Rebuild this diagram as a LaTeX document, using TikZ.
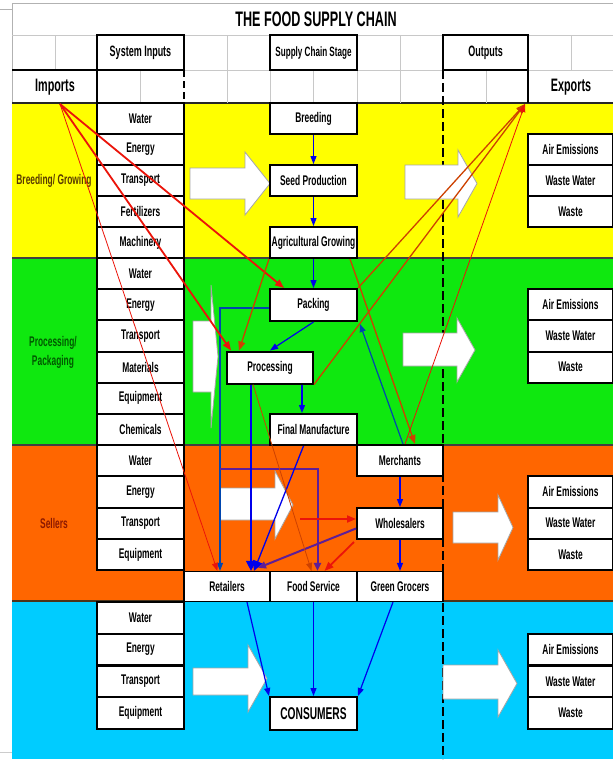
\documentclass[tikz,border=0pt]{standalone}
\usepackage{fontspec}
\setmainfont{Liberation Sans}[FakeStretch=0.6]
\usetikzlibrary{arrows.meta,calc}
\definecolor{byellow}{RGB}{255,255,0}
\definecolor{bgreen}{RGB}{15,232,15}
\definecolor{borange}{RGB}{255,102,0}
\definecolor{bcyan}{RGB}{0,204,255}
\definecolor{fblue}{RGB}{0,0,235}
\definecolor{fteal}{RGB}{0,70,175}
\definecolor{fpurple}{RGB}{95,30,150}
\definecolor{fred}{RGB}{235,20,10}
\definecolor{fbrown}{RGB}{205,65,0}
\definecolor{gridgray}{RGB}{200,200,200}
\tikzset{
  cell/.style={draw=black, line width=2pt, fill=white, inner sep=0pt, minimum width=87pt,
    font=\bfseries\fontsize{14}{15}\selectfont},
  cellthin/.style={cell, line width=1.2pt},
  hdr/.style={font=\bfseries\fontsize{15}{16}\selectfont, inner sep=0pt},
  bandlbl/.style={font=\bfseries\fontsize{14}{19}\selectfont, align=center, inner sep=0pt},
  blockarrow/.style={fill=white, draw=gray!70, line width=0.8pt},
  bl/.style={draw=fblue, line width=1.2pt, -{Triangle[length=8pt,width=6pt]}},
  blbig/.style={draw=fblue, line width=1.3pt, -{Triangle[length=10pt,width=10pt]}},
  tl/.style={draw=fteal, line width=1.2pt, -{Triangle[length=8pt,width=6pt]}},
  pl/.style={draw=fpurple, line width=2pt, -{Triangle[length=8pt,width=7pt]}},
  rthick/.style={draw=fred, line width=1.8pt, -{Triangle[length=9pt,width=7pt]}},
  rmed/.style={draw=fbrown, line width=1.3pt, -{Triangle[length=9pt,width=7pt]}},
  rthin/.style={draw=fred, line width=0.8pt, -{Triangle[length=8pt,width=6pt]}},
}
\newcommand\blockarr[7]{%
  \draw[blockarrow] (#1,#4) -- (#2,#4) -- (#2,#6) -- (#3,{(#6+#7)/2}) -- (#2,#7) -- (#2,#5) -- (#1,#5) -- cycle;}
\begin{document}
\begin{tikzpicture}[x=1pt,y=-1pt]
\useasboundingbox (0,0) rectangle (613,761);
\fill[white] (0,0) rectangle (613,761);
% frame
\draw[gray!60, line width=0.8pt] (0,9) -- (12,9);
\draw[gray!60, line width=0.8pt] (12,3) -- (613,3);
\draw[gray!60, line width=0.8pt] (12,3) -- (12,759);
\draw[gray!40, line width=0.6pt] (0,752) -- (12,752);
% bands
\fill[byellow] (12,103) rectangle (613,258);
\fill[bgreen] (12,258) rectangle (613,445);
\fill[borange] (12,445) rectangle (613,601);
\fill[bcyan] (12,601) rectangle (613,759);
\draw[black!85, line width=1.8pt] (12,103) -- (613,103);
\draw[black!75, line width=1.8pt] (12,258) -- (613,258);
\draw[black!75, line width=1.8pt] (12,445) -- (613,445);
\draw[black!60!brown, line width=1.8pt] (12,601) -- (613,601);
% header grid
\draw[gridgray, line width=0.7pt] (12,35) -- (613,35) (12,70) -- (613,70);
\foreach \gx in {55,227,400,571} \draw[gridgray, line width=0.7pt] (\gx,35) -- (\gx,70);
\foreach \gx in {140,227,270,313,357,400,486} \draw[gridgray, line width=0.7pt] (\gx,70) -- (\gx,103);
\draw[black, line width=1.8pt] (12,70) -- (97,70);
\draw[black, line width=1.8pt] (97,70) -- (97,103);
\draw[black, line width=1.8pt] (528,70) -- (528,103);
\draw[black, line width=1.6pt, dash pattern=on 7pt off 4pt] (184,70) -- (184,103);
\draw[black, line width=1.8pt] (184,103) -- (184,572);
\draw[black, line width=1.3pt, dash pattern=on 9pt off 4pt] (443,70) -- (443,759);
% header boxes
\node[draw=black, line width=1.8pt, minimum width=87pt, minimum height=35pt, inner sep=0pt] (sysinbox) at (140.5,52.5) {};
\node[draw=black, line width=1.8pt, minimum width=87pt, minimum height=35pt, inner sep=0pt] (scsbox) at (313.5,52.5) {};
\node[draw=black, line width=1.8pt, minimum width=85pt, minimum height=35pt, inner sep=0pt] (outbox) at (485.5,52.5) {};
\node[hdr] (sysin) at (140.5,53) {System Inputs};
\node[hdr, font=\bfseries\fontsize{13.5}{14}\selectfont] (scs) at (313.5,53) {Supply Chain Stage};
\node[hdr] (outs) at (485.5,53) {Outputs};
\node[font=\bfseries\fontsize{21}{22}\selectfont, inner sep=0pt] (title) at (316,19) {THE FOOD SUPPLY CHAIN};
\node[font=\bfseries\fontsize{18}{20}\selectfont, inner sep=0pt] (imports) at (55,87) {Imports};
\node[font=\bfseries\fontsize{18}{20}\selectfont, inner sep=0pt] (exports) at (571,87) {Exports};
% band labels
\node[bandlbl, text={rgb,255:red,90;green,60;blue,0}] (lblbreed) at (54,181) {Breeding/ Growing};
\node[bandlbl, text={rgb,255:red,0;green,90;blue,0}] (lblproc) at (53,352) {Processing/\\Packaging};
\node[bandlbl, text={rgb,255:red,140;green,25;blue,0}] (lblsell) at (54,523) {Sellers};
% block arrows
\blockarr{190}{245}{270}{168}{199}{152}{215}
\blockarr{405}{458}{477}{165}{199}{150}{217}
\blockarr{193}{211}{218}{321}{392}{285}{428}
\blockarr{403}{457}{475}{333}{366}{318}{382}
\blockarr{220}{275}{293}{488}{520}{471}{539}
\blockarr{453}{498}{513}{512}{543}{495}{560}
\blockarr{193}{248}{267}{668}{695}{645}{712}
\blockarr{443}{498}{517}{665}{699}{650}{717}
% input boxes
\node[cell, minimum height=31pt] (yw) at (140.5,118.5) {Water};
\node[cell, minimum height=31pt] (ye) at (140.5,149.5) {Energy};
\node[cell, minimum height=31pt] (yt) at (140.5,180.5) {Transport};
\node[cell, minimum height=31pt] (yf) at (140.5,211.5) {Fertilizers};
\node[cell, minimum height=31pt] (ym) at (140.5,242.5) {Machinery};
\node[cell, minimum height=31.2pt] (gw) at (140.5,273.6) {Water};
\node[cell, minimum height=31.2pt] (ge) at (140.5,304.8) {Energy};
\node[cell, minimum height=31.2pt] (gt) at (140.5,336) {Transport};
\node[cell, minimum height=31.2pt] (gm) at (140.5,367.1) {Materials};
\node[cell, minimum height=31.2pt] (gq) at (140.5,398.3) {Equipment};
\node[cell, minimum height=31.2pt] (gc) at (140.5,429.4) {Chemicals};
\node[cell, minimum height=31.2pt] (ow) at (140.5,460.6) {Water};
\node[cell, minimum height=31.2pt] (oe) at (140.5,491.9) {Energy};
\node[cell, minimum height=31.2pt] (ot) at (140.5,523.1) {Transport};
\node[cell, minimum height=31.2pt] (oq) at (140.5,554.4) {Equipment};
\node[cell, minimum height=31.7pt] (cw) at (140.5,617.9) {Water};
\node[cell, minimum height=31.7pt] (ce) at (140.5,649.6) {Energy};
\node[cell, minimum height=31.7pt] (ct) at (140.5,681.4) {Transport};
\node[cell, minimum height=31.7pt] (cq) at (140.5,713.1) {Equipment};
% output boxes
\node[cell, minimum width=85pt, minimum height=31pt] (ya) at (570.5,149.5) {Air Emissions};
\node[cell, minimum width=85pt, minimum height=31pt] (yww) at (570.5,180.5) {Waste Water};
\node[cell, minimum width=85pt, minimum height=31pt] (yws) at (570.5,211.5) {Waste};
\node[cell, minimum width=85pt, minimum height=31.2pt] (ga) at (570.5,304.8) {Air Emissions};
\node[cell, minimum width=85pt, minimum height=31.2pt] (gww) at (570.5,336) {Waste Water};
\node[cell, minimum width=85pt, minimum height=31.2pt] (gws) at (570.5,367.1) {Waste};
\node[cell, minimum width=85pt, minimum height=31.2pt] (oa) at (570.5,491.9) {Air Emissions};
\node[cell, minimum width=85pt, minimum height=31.2pt] (oww) at (570.5,523.1) {Waste Water};
\node[cell, minimum width=85pt, minimum height=31.2pt] (ows) at (570.5,554.4) {Waste};
\node[cell, minimum width=85pt, minimum height=31.7pt] (ca) at (570.5,649.6) {Air Emissions};
\node[cell, minimum width=85pt, minimum height=31.7pt] (cww) at (570.5,681.4) {Waste Water};
\node[cell, minimum width=85pt, minimum height=31.7pt] (cws) at (570.5,713.1) {Waste};
% supply chain stages
\node[cell, minimum height=31pt] (breeding) at (313.5,118.5) {Breeding};
\node[cell, minimum height=31pt] (seed) at (313.5,180.5) {Seed Production};
\node[cell, minimum height=31pt] (ag) at (313.5,242.5) {Agricultural Growing};
\node[cell, minimum height=32pt] (packing) at (313.5,305) {Packing};
\node[cell, minimum width=86pt, minimum height=32pt] (processing) at (270,367.5) {Processing};
\node[cell, minimum height=31pt] (final) at (313.5,429.5) {Final Manufacture};
\node[cell, minimum width=86pt, minimum height=31pt] (merchants) at (400,460.5) {Merchants};
\node[cell, minimum width=86pt, minimum height=31pt] (wholesalers) at (400,523.5) {Wholesalers};
\node[cellthin, minimum width=86pt, minimum height=30pt] (retailers) at (227,586.5) {Retailers};
\node[cellthin, minimum width=87pt, minimum height=30pt] (foodservice) at (313.5,586.5) {Food Service};
\node[cellthin, minimum width=86pt, minimum height=30pt] (greengrocers) at (400,586.5) {Green Grocers};
\node[cell, minimum height=33pt, font=\bfseries\fontsize{17}{18}\selectfont] (consumers) at (313.5,713.5) {CONSUMERS};
% blue flows
\draw[bl] (breeding) -- (seed);
\draw[bl] (seed) -- (ag);
\draw[bl] (ag) -- (packing);
\draw[bl] (packing.south) -- (processing.north);
\draw[bl] ($(processing.south)+(32,0)$) -- ($(final.north)+(-11.5,0)$);
\draw[bl] (merchants) -- (wholesalers);
\draw[bl] (wholesalers) -- (greengrocers);
\draw[bl] ($(retailers.south)+(20,0)$) -- (consumers.north west);
\draw[bl] (foodservice) -- (consumers);
\draw[bl] ($(greengrocers.south)+(-7,0)$) -- (consumers.north east);
\draw[tl] ($(merchants.north)+(3,0)$) -- ($(packing.south east)+(2,2)$);
\draw[tl] ($(packing.west)+(0,3)$) -| ($(retailers.north)+(-7,0)$);
\coordinate (branch) at (220,469);
\draw[pl] (branch) -| ($(foodservice.north)+(4,0)$);
\draw[blbig] ($(processing.south)+(-19,0)$) -- ($(retailers.north)+(24,0)$);
\draw[blbig] ($(final.south)+(-10,0)$) -- ($(retailers.north)+(27,0)$);
\draw[pl] ($(wholesalers.west)+(0,5)$) -- ($(retailers.north)+(31,-3)$);
% red flows
\coordinate (impo) at (60,104);
\coordinate (expo) at (525,104);
\draw[rthick] (impo) -- ($(packing.north west)+(15,0)$);
\draw[rthick] (impo) -- ($(processing.north west)+(5,0)$);
\draw[rthin] (impo) -- ($(retailers.north west)+(34,0)$);
\draw[rmed] (ag.south west) -- ($(processing.north west)+(13,0)$);
\draw[rmed] ($(ag.south east)+(-8,0)$) -- ($(merchants.north)+(15,0)$);
\draw[rmed] (packing.north east) -- (expo);
\draw[rmed] (processing.south east) -- (expo);
\draw[rthin] ($(merchants.north)+(5,0)$) -- (expo);
\draw[rthin, draw=fbrown] ($(processing.south)+(-17,0)$) -- ($(foodservice.north)+(-2,0)$);
\coordinate (redin) at (300,519);
\draw[rthick] (redin) -- (wholesalers.west |- redin);
\draw[rthick] ($(wholesalers.south west)+(-2,2)$) -- ($(foodservice.north)+(11,0)$);
\end{tikzpicture}
\end{document}
